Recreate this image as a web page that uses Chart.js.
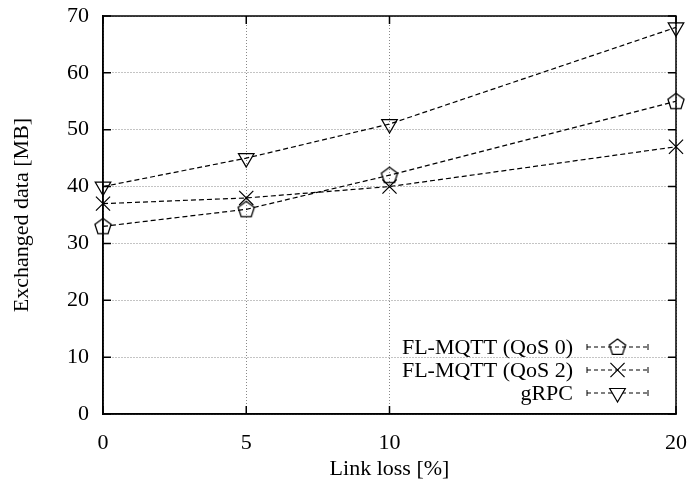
<!DOCTYPE html>
<html>
<head>
<meta charset="utf-8">
<script src="https://cdn.jsdelivr.net/npm/chart.js@4/dist/chart.umd.min.js"></script>
<style>
  html, body { margin: 0; padding: 0; background: #fff; }
  #wrap { width: 689px; height: 486px; }
  .pre { font-family: 'Liberation Serif'; position: absolute; left: -999px; }
</style>
</head>
<body>
<span class="pre">Link loss</span>
<div id="wrap"><canvas id="chart"></canvas></div>
<script>
// link loss in %
const linkLoss = [0, 5, 10, 20];
const xTicks = [0, 5, 10, 20];
// exchanged data in MB
const qos0 = [33, 36, 42, 55];
const qos2 = [37, 38, 40, 47];
const grpc = [40, 45, 51, 68];
const seriesNames = ["FL-MQTT (QoS 0)", "FL-MQTT (QoS 2)", "gRPC"];

const FONT = "'Liberation Serif', serif";
const FS = 22;

// gnuplot has a pentagon, chart.js doesn't -> draw one on a small canvas
const pentagon = (() => {
  const c = document.createElement("canvas");
  c.width = 22; c.height = 22;
  const g = c.getContext("2d");
  g.strokeStyle = "#000";
  g.lineWidth = 1.3;
  g.beginPath();
  for (let i = 0; i < 5; i++) {
    const a = -Math.PI / 2 + i * 2 * Math.PI / 5;
    const px = 11 + 8.5 * Math.cos(a), py = 11.5 + 8.5 * Math.sin(a);
    i ? g.lineTo(px, py) : g.moveTo(px, py);
  }
  g.closePath();
  g.stroke();
  return c;
})();

const mk = (label, vals, style, rot, r) => ({
  label: label,
  data: linkLoss.map((x, i) => ({ x: x, y: vals[i] })),
  borderColor: "#000",
  borderWidth: 1.2,
  borderDash: [5, 3],
  pointStyle: style,
  rotation: rot,
  pointRadius: r,
  pointBorderWidth: 1.2,
  pointBorderColor: "#000",
  pointBackgroundColor: "rgba(0,0,0,0)",
  tension: 0,
  clip: false,
});

// inward ticks + key in the lower right corner, gnuplot style
const gnuplotBits = {
  id: "gnuplotBits",
  afterDraw(chart) {
    const ctx = chart.ctx;
    const a = chart.chartArea;
    const xs = chart.scales.x, ys = chart.scales.y;
    ctx.save();
    ctx.strokeStyle = "#000";
    ctx.lineWidth = 1.5;
    ctx.setLineDash([]);
    ctx.beginPath();
    ys.ticks.forEach(t => {
      const y = ys.getPixelForValue(t.value);
      ctx.moveTo(a.left, y); ctx.lineTo(a.left + 8, y);
      ctx.moveTo(a.right, y); ctx.lineTo(a.right - 8, y);
    });
    xs.ticks.forEach(t => {
      const x = xs.getPixelForValue(t.value);
      ctx.moveTo(x, a.bottom); ctx.lineTo(x, a.bottom - 8);
      ctx.moveTo(x, a.top); ctx.lineTo(x, a.top + 8);
    });
    ctx.stroke();

    // key
    ctx.font = FS + "px " + FONT;
    ctx.textAlign = "right";
    ctx.textBaseline = "middle";
    const x0 = a.right - 89, x1 = a.right - 28, textX = a.right - 103;
    chart.data.datasets.forEach((ds, i) => {
      const y = a.bottom - 67 + i * 23;
      ctx.fillStyle = "#000";
      ctx.fillText(ds.label, textX, y + 1);
      ctx.lineWidth = 1;
      ctx.setLineDash([]);
      ctx.beginPath();
      ctx.moveTo(x0, y - 3); ctx.lineTo(x0, y + 3);
      ctx.moveTo(x1, y - 3); ctx.lineTo(x1, y + 3);
      ctx.stroke();
      ctx.lineWidth = 1.2;
      ctx.setLineDash([4, 3]);
      ctx.beginPath();
      ctx.moveTo(x0, y); ctx.lineTo(x1, y);
      ctx.stroke();
      ctx.setLineDash([]);
      ctx.fillStyle = "#fff";
      Chart.helpers.drawPoint(ctx, {
        pointStyle: ds.pointStyle,
        rotation: ds.rotation,
        radius: ds.pointRadius,
        borderWidth: 1.2,
      }, (x0 + x1) / 2, y);
    });
    ctx.restore();
  },
};

function draw() {
  new Chart(document.getElementById("chart"), {
    type: "line",
    data: {
      datasets: [
        mk(seriesNames[0], qos0, pentagon, 0, 9),
        mk(seriesNames[1], qos2, "crossRot", 0, 10),
        mk(seriesNames[2], grpc, "triangle", 180, 9),
      ],
    },
    options: {
      responsive: true,
      maintainAspectRatio: false,
      animation: false,
      events: [],
      layout: { padding: { top: 16, right: 13, left: 0, bottom: 0 } },
      plugins: { legend: { display: false }, tooltip: { enabled: false } },
      scales: {
        x: {
          type: "linear",
          min: 0,
          max: 20,
          afterBuildTicks: (s) => { s.ticks = xTicks.map(v => ({ value: v })); },
          afterFit: (s) => { s.height = 72; s.paddingLeft = 0; s.paddingRight = 0; },
          border: { color: "#000", width: 1.5, dash: [1, 2] },
          grid: { color: "#888", lineWidth: 1, drawTicks: false },
          ticks: { color: "#000", font: { family: FONT, size: FS }, padding: 16, maxRotation: 0 },
          title: { display: true, text: "Link loss [%]", color: "#000", font: { family: FONT, size: FS }, padding: { top: 4 } },
        },
        y: {
          min: 0,
          max: 70,
          afterFit: (s) => { s.width = 103; s.paddingTop = 0; s.paddingBottom = 0; },
          border: { color: "#000", width: 1.5, dash: [1, 2] },
          grid: { color: "#888", lineWidth: 1, drawTicks: false },
          ticks: { stepSize: 10, color: "#000", font: { family: FONT, size: FS }, padding: 14 },
          title: { display: true, text: "Exchanged data [MB]", color: "#000", font: { family: FONT, size: FS }, padding: { top: 9, bottom: 0 } },
        },
      },
    },
    plugins: [
      gnuplotBits,
      {
        id: "frame",
        beforeDatasetsDraw(chart) {
          const a = chart.chartArea, ctx = chart.ctx;
          ctx.save();
          ctx.strokeStyle = "#000";
          ctx.lineWidth = 1.5;
          ctx.setLineDash([]);
          ctx.strokeRect(a.left, a.top, a.right - a.left, a.bottom - a.top);
          ctx.restore();
        },
      },
    ],
  });
}

document.fonts.load(FS + "px 'Liberation Serif'").then(draw, draw);
</script>
</body>
</html>
